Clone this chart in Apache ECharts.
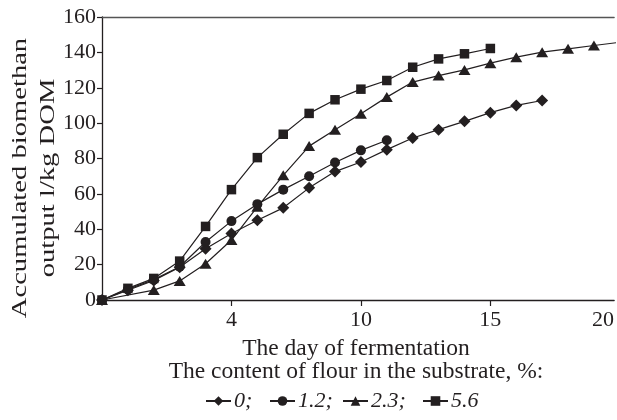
<!DOCTYPE html>
<html>
<head>
<meta charset="utf-8">
<script src="https://cdn.jsdelivr.net/npm/echarts@6/dist/echarts.min.js"></script>
<style>
  html, body { margin: 0; padding: 0; background: #fff; }
  #chart { width: 617px; height: 420px; }
</style>
</head>
<body>
<div id="chart"></div>
<script>
// day index of each measurement (x position on the axis)
const days = [0, 1, 2, 3, 4, 5, 6, 7, 8, 9, 10, 11, 12, 13, 14, 15, 16, 17, 18, 19, 20];

// accumulated biomethane, l/kg DOM, by flour content
const flour0 = [0, 5.5, 11, 18.5, 29, 37.6, 45.1, 52.1, 63.4, 72.6, 78, 85, 91.6, 96.3, 101, 105.9, 110, 112.8];
const flour12 = [0, 6, 11.5, 18.8, 32.8, 44.6, 54.2, 62.4, 70, 77.7, 84.6, 90.3];
const flour23 = [0, null, 5.6, 10.8, 20.5, 33.9, 52.7, 70.5, 87, 96.3, 105.3, 114.7, 123.2, 126.9, 130.1, 133.9, 137.3, 140.1, 142, 143.9, 145.7];
const flour56 = [0, 6.6, 12.2, 22, 41.6, 62.4, 80.5, 93.7, 105.5, 113.2, 119.2, 124.1, 131.6, 136.3, 139.2, 142.2];

const seriesNames = ['0', '1.2', '2.3', '5.6'];

// x tick labels and where they sit on the day index scale
const xTickPos = [5, 10, 15, 19.35];
const xTickText = ['4', '10', '15', '20'];

const ink = '#231f20';
const serif = '"Liberation Serif", "Times New Roman", serif';

function pairs(vals) {
    return vals.map(function (v, i) { return [days[i], v]; });
}

const chart = echarts.init(document.getElementById('chart'));

function lineSeries(name, vals, symbol, size) {
    return {
        name: name,
        type: 'line',
        data: pairs(vals),
        connectNulls: true,
        symbol: symbol,
        symbolSize: size,
        showSymbol: true,
        itemStyle: { color: ink },
        lineStyle: { color: ink, width: 1.2 },
        emphasis: { disabled: true },
        clip: true
    };
}

// one legend block per series, the gaps in the original are uneven
const legendLeft = [200, 264, 337, 417];
const legends = seriesNames.map(function (name, i) {
    return {
        data: [name],
        left: legendLeft[i],
        top: 385,
        itemWidth: 25,
        itemHeight: 12,
        selectedMode: false,
        textStyle: {
            color: ink,
            fontFamily: serif,
            fontStyle: 'italic',
            fontSize: 22,
            padding: [0, 0, 0, -2]
        },
        formatter: function (n) {
            return n === '5.6' ? n : n + ';';
        }
    };
});

const option = {
    animation: false,
    grid: {
        left: 102,
        right: 0,
        top: 17,
        bottom: 120
    },
    xAxis: [{
        type: 'value',
        min: 0,
        max: 19.78,
        splitLine: { show: false },
        axisLine: { show: true, onZero: false, lineStyle: { color: ink, width: 1.3 } },
        axisTick: {
            show: true,
            customValues: [5, 10, 15],
            length: 6,
            lineStyle: { color: ink, width: 1.2 }
        },
        axisLabel: {
            customValues: xTickPos,
            margin: 9,
            color: ink,
            fontFamily: serif,
            fontSize: 22,
            formatter: function (v) {
                const i = xTickPos.indexOf(v);
                return i >= 0 ? xTickText[i] : '';
            }
        }
    }, {
        // top frame line
        type: 'value',
        position: 'top',
        min: 0,
        max: 19.78,
        splitLine: { show: false },
        axisLine: { show: true, onZero: false, lineStyle: { color: '#555', width: 1.3 } },
        axisTick: { show: false },
        axisLabel: { show: false }
    }],
    yAxis: {
        type: 'value',
        min: 0,
        max: 160,
        interval: 20,
        splitLine: { show: false },
        axisLine: { show: true, onZero: false, lineStyle: { color: ink, width: 1.3 } },
        axisTick: { show: true, length: 5, lineStyle: { color: ink, width: 1.2 } },
        axisLabel: {
            margin: 6,
            color: ink,
            fontFamily: serif,
            fontSize: 22
        }
    },
    legend: legends,
    graphic: [{
        // y axis title, stretched along its length like the original
        type: 'text',
        x: 34,
        y: 178,
        rotation: Math.PI / 2,
        scaleX: 1.3,
        style: {
            text: 'Accumulated biomethan\noutput l/kg DOM',
            fill: ink,
            font: '22px ' + serif,
            align: 'center',
            verticalAlign: 'middle',
            lineHeight: 28
        }
    }, {
        type: 'text',
        x: 356,
        y: 349,
        style: {
            text: 'The day of fermentation',
            fill: ink,
            font: '23.5px ' + serif,
            align: 'center',
            verticalAlign: 'middle'
        }
    }, {
        type: 'text',
        x: 356,
        y: 372,
        style: {
            text: 'The content of flour in the substrate, %:',
            fill: ink,
            font: '23.5px ' + serif,
            align: 'center',
            verticalAlign: 'middle'
        }
    }],
    series: [
        lineSeries(seriesNames[0], flour0, 'diamond', [12, 12]),
        lineSeries(seriesNames[1], flour12, 'circle', 10),
        lineSeries(seriesNames[2], flour23, 'triangle', [12, 10]),
        lineSeries(seriesNames[3], flour56, 'rect', 9.5)
    ]
};

chart.setOption(option);
</script>
</body>
</html>
